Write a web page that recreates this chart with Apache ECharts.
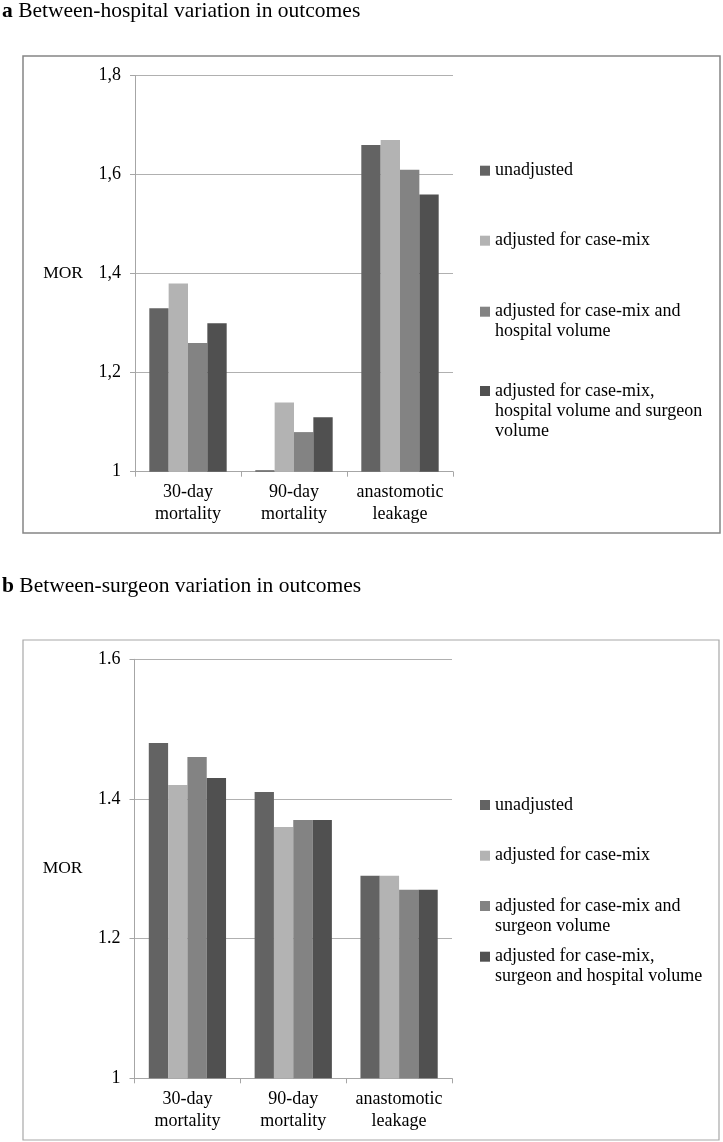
<!DOCTYPE html>
<html>
<head>
<meta charset="utf-8">
<script src="https://cdn.jsdelivr.net/npm/echarts@6/dist/echarts.min.js"></script>
<style>
html,body{margin:0;padding:0;background:#fff;}
#c{width:723px;height:1142px;}
</style>
</head>
<body>
<div id="c"></div>
<script>
// ---- data ----
var categories = ['30-day\nmortality', '90-day\nmortality', 'anastomotic\nleakage'];

var seriesNamesA = ['unadjusted', 'adjusted for case-mix', 'adjusted for case-mix and hospital volume', 'adjusted for case-mix, hospital volume and surgeon volume'];
var legendTextA = ['unadjusted', 'adjusted for case-mix', 'adjusted for case-mix and\nhospital volume', 'adjusted for case-mix,\nhospital volume and surgeon\nvolume'];
var unadjustedA = [1.33, 1.003, 1.66];
var caseMixA = [1.38, 1.14, 1.67];
var caseMixVolA = [1.26, 1.08, 1.61];
var fullA = [1.30, 1.11, 1.56];
var yTicksA = [1, 1.2, 1.4, 1.6, 1.8];

var seriesNamesB = ['unadjusted ', 'adjusted for case-mix ', 'adjusted for case-mix and surgeon volume', 'adjusted for case-mix, surgeon and hospital volume'];
var legendTextB = ['unadjusted', 'adjusted for case-mix', 'adjusted for case-mix and\nsurgeon volume', 'adjusted for case-mix,\nsurgeon and hospital volume'];
var unadjustedB = [1.48, 1.41, 1.29];
var caseMixB = [1.42, 1.36, 1.29];
var caseMixVolB = [1.46, 1.37, 1.27];
var fullB = [1.43, 1.37, 1.27];
var yTicksB = [1, 1.2, 1.4, 1.6];

// ---- styling ----
var FONT = '"Liberation Serif","DejaVu Serif",serif';
var colors = ['#636363', '#b3b3b3', '#838383', '#505050'];
var chart = echarts.init(document.getElementById('c'), null, {renderer: 'canvas'});

function fmtComma(v) { return Math.abs(v - 1) < 1e-9 ? '1' : v.toFixed(1).replace('.', ','); }
function fmtDot(v) { return Math.abs(v - 1) < 1e-9 ? '1' : v.toFixed(1); }

function yAxis(idx, ticks, fmt) {
  return {
    type: 'value', gridIndex: idx,
    min: ticks[0], max: ticks[ticks.length - 1], interval: 0.2,
    name: 'MOR', nameLocation: 'middle', nameRotate: 0, nameGap: 52,
    nameTextStyle: {fontFamily: FONT, fontSize: 17.5, color: '#000', align: 'right'},
    axisLine: {show: true, lineStyle: {color: '#a6a6a6', width: 1}},
    axisTick: {show: true, length: 5, lineStyle: {color: '#a6a6a6'}},
    splitLine: {show: true, lineStyle: {color: '#b0b0b0', width: 1}},
    axisLabel: {fontFamily: FONT, fontSize: 18, color: '#000', margin: 14, formatter: fmt}
  };
}
function xAxis(idx) {
  return {
    type: 'category', gridIndex: idx, data: categories,
    axisLine: {show: true, lineStyle: {color: '#a6a6a6', width: 1}},
    axisTick: {show: true, length: 5, lineStyle: {color: '#a6a6a6'}},
    axisLabel: {fontFamily: FONT, fontSize: 18, color: '#000', margin: 10, lineHeight: 22, interval: 0}
  };
}
function bar(name, data, ci, idx) {
  return {
    type: 'bar', name: name, data: data, xAxisIndex: idx, yAxisIndex: idx,
    barGap: '0%', barCategoryGap: '27%',
    itemStyle: {color: colors[ci]}, silent: true, animation: false
  };
}
function legendItem(name, text, iconCenterY, ci) {
  var lines = text.split('\n').length;
  var pad = '';
  for (var i = 1; i < lines; i++) pad += '\n';
  var top = iconCenterY - 10 * (2 * lines - 1);
  return {
    data: [name], left: 480, top: top, padding: 0, orient: 'vertical',
    icon: 'rect', itemWidth: 10, itemHeight: 10, selectedMode: false,
    formatter: function () { return pad + text; },
    textStyle: {fontFamily: FONT, fontSize: 18, color: '#000', lineHeight: 20}
  };
}

var legendYA = [170.7, 240.7, 311.7, 391];
var legendYB = [805, 855.7, 906, 956.7];
var legends = [];
for (var i = 0; i < 4; i++) legends.push(legendItem(seriesNamesA[i], legendTextA[i], legendYA[i], i));
for (var j = 0; j < 4; j++) legends.push(legendItem(seriesNamesB[j], legendTextB[j], legendYB[j], j));

var option = {
  animation: false,
  backgroundColor: '#fff',
  color: colors,
  title: [
    {text: '{b|a} Between-hospital variation in outcomes', left: 2, top: 0, padding: 0,
     textStyle: {fontFamily: FONT, fontSize: 21.5, fontWeight: 'normal', color: '#000', lineHeight: 22,
       rich: {b: {fontFamily: FONT, fontSize: 21.5, fontWeight: 'bold', color: '#000'}}}},
    {text: '{b|b} Between-surgeon variation in outcomes', left: 2, top: 575, padding: 0,
     textStyle: {fontFamily: FONT, fontSize: 21.5, fontWeight: 'normal', color: '#000', lineHeight: 22,
       rich: {b: {fontFamily: FONT, fontSize: 21.5, fontWeight: 'bold', color: '#000'}}}}
  ],
  graphic: [
    {type: 'rect', shape: {x: 23, y: 56, width: 697, height: 477}, silent: true, z: -1,
     style: {fill: 'none', stroke: '#858585', lineWidth: 1.5}},
    {type: 'rect', shape: {x: 23, y: 640, width: 696, height: 500}, silent: true, z: -1,
     style: {fill: 'none', stroke: '#a8a8a8', lineWidth: 1.2}}
  ],
  legend: legends,
  grid: [
    {left: 135, top: 75.7, width: 318, height: 396, containLabel: false},
    {left: 134.5, top: 659.3, width: 317.5, height: 419, containLabel: false}
  ],
  xAxis: [xAxis(0), xAxis(1)],
  yAxis: [yAxis(0, yTicksA, fmtComma), yAxis(1, yTicksB, fmtDot)],
  series: [
    bar(seriesNamesA[0], unadjustedA, 0, 0),
    bar(seriesNamesA[1], caseMixA, 1, 0),
    bar(seriesNamesA[2], caseMixVolA, 2, 0),
    bar(seriesNamesA[3], fullA, 3, 0),
    bar(seriesNamesB[0], unadjustedB, 0, 1),
    bar(seriesNamesB[1], caseMixB, 1, 1),
    bar(seriesNamesB[2], caseMixVolB, 2, 1),
    bar(seriesNamesB[3], fullB, 3, 1)
  ]
};
chart.setOption(option);
</script>
</body>
</html>
